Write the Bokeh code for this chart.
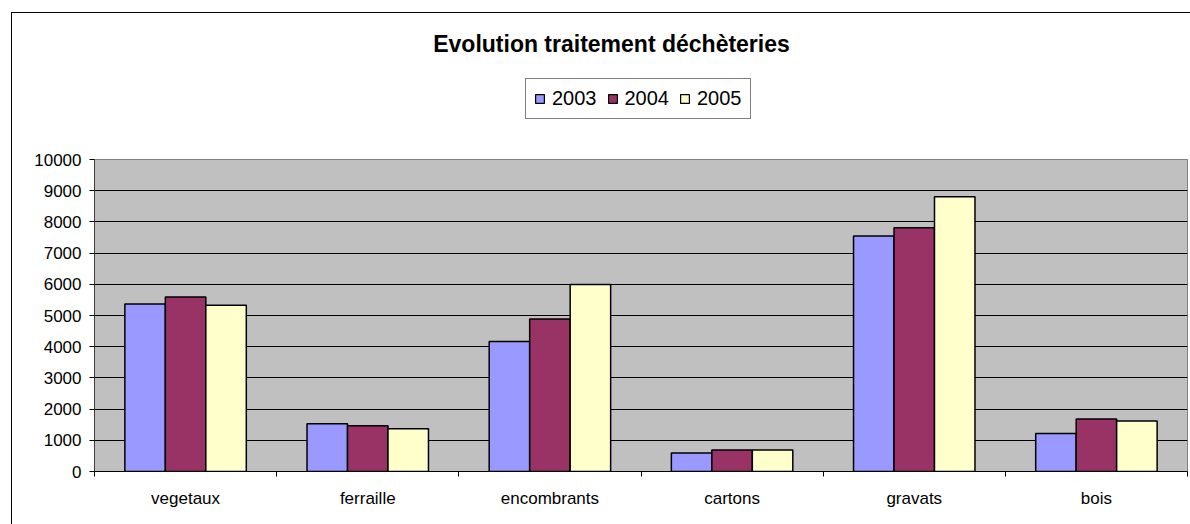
from bokeh.plotting import figure
from bokeh.layouts import column
from bokeh.models import Range1d, FixedTicker, Label
from bokeh.embed import file_html
from bokeh.resources import INLINE

# ---- data ----
categories = ["vegetaux", "ferraille", "encombrants", "cartons", "gravats", "bois"]
years = ["2003", "2004", "2005"]
v2003 = [5370, 1530, 4170, 590, 7550, 1220]
v2004 = [5590, 1470, 4890, 690, 7810, 1680]
v2005 = [5330, 1370, 5990, 690, 8810, 1620]
colors = ["#9999FF", "#993366", "#FFFFCC"]
y_ticks = [0, 1000, 2000, 3000, 4000, 5000, 6000, 7000, 8000, 9000, 10000]
title_text = "Evolution traitement déchèteries"

FONT = "Liberation Sans"
n = len(categories)
series = [v2003, v2004, v2005]

# geometry (canvas pixels)
W, H = 1190, 524
TOP_H = 150
FL, FR, FT, FB = 94, 1187, 159, 471
bw = 1.0 / (3 + 1.5)

# ---------- header figure: title + legend ----------
bg_top = ("linear-gradient(#000,#000) 11px 12px / 1px 100% no-repeat, "
          "linear-gradient(#000,#000) 11px 12px / 100% 1px no-repeat, #ffffff")
top = figure(width=W, height=TOP_H,
             x_range=Range1d(FL, FR), y_range=Range1d(TOP_H, 0),
             x_axis_type=None, y_axis_type=None,
             output_backend="svg", toolbar_location=None,
             min_border=0, min_border_left=0, min_border_right=0,
             min_border_top=0, min_border_bottom=0,
             styles={"background": bg_top})
top.grid.visible = False
top.outline_line_color = None
top.background_fill_alpha = 0
top.border_fill_alpha = 0

top.add_layout(Label(x=611, y=43.5, text=title_text,
                     text_align="center", text_baseline="alphabetic",
                     text_font=FONT, text_font_style="bold",
                     text_font_size="23px", text_color="black"))

# hidden copies of the series, used only as legend entries
for k, (yr, vals, col) in enumerate(zip(years, series, colors)):
    xs = [i + 0.5 + (k - 1) * bw for i in range(n)]
    top.vbar(x=xs, top=vals, width=bw, fill_color=col, line_color="black",
             line_width=1.2, legend_label=yr, visible=False)

leg = top.legend[0]
leg.location = (525 - FL, TOP_H - 119)
leg.orientation = "horizontal"
leg.border_line_color = "black"
leg.border_line_width = 1
leg.background_fill_color = "white"
leg.background_fill_alpha = 1
leg.inactive_fill_alpha = 0
leg.padding = 8
leg.spacing = 10
leg.margin = 0
leg.label_standoff = 7
leg.glyph_width = 11
leg.glyph_height = 11
leg.label_text_font = FONT
leg.label_text_font_size = "20px"
leg.label_text_color = "black"

# ---------- chart figure ----------
bg_bot = "linear-gradient(#000,#000) 11px 0px / 1px 100% no-repeat, #ffffff"
p = figure(width=W, height=H - TOP_H,
           x_range=Range1d(0, n), y_range=Range1d(0, 10000),
           output_backend="svg", toolbar_location=None,
           min_border_left=FL, min_border_right=W - FR,
           min_border_top=FT - TOP_H, min_border_bottom=H - FB,
           styles={"background": bg_bot})

p.background_fill_color = "#C0C0C0"
p.border_fill_alpha = 0
p.outline_line_color = "#808080"
p.outline_line_width = 1

for k, (yr, vals, col) in enumerate(zip(years, series, colors)):
    xs = [i + 0.5 + (k - 1) * bw for i in range(n)]
    p.vbar(x=xs, top=vals, width=bw, bottom=0, fill_color=col,
           line_color="black", line_width=1.5)

# y axis
p.yaxis.ticker = FixedTicker(ticks=y_ticks, minor_ticks=[])
p.yaxis.major_tick_out = 5
p.yaxis.major_tick_in = 0
p.yaxis.minor_tick_line_color = None
p.yaxis.axis_line_color = "#404040"
p.yaxis.major_tick_line_color = "black"
p.yaxis.major_label_text_font = FONT
p.yaxis.major_label_text_font_size = "17px"
p.yaxis.major_label_text_color = "black"
p.yaxis.major_label_standoff = 8

# x axis
centers = [i + 0.5 for i in range(n)]
bounds = [float(i) for i in range(n + 1)]
p.xaxis.ticker = FixedTicker(ticks=centers, minor_ticks=bounds)
p.xaxis.major_label_overrides = {c: name for c, name in zip(centers, categories)}
p.xaxis.major_tick_line_color = None
p.xaxis.major_tick_out = 5
p.xaxis.major_tick_in = 0
p.xaxis.minor_tick_out = 5
p.xaxis.minor_tick_in = 0
p.xaxis.minor_tick_line_color = "black"
p.xaxis.axis_line_color = "black"
p.xaxis.major_label_text_font = FONT
p.xaxis.major_label_text_font_size = "17px"
p.xaxis.major_label_text_color = "black"
p.xaxis.major_label_standoff = 12

# grid
p.ygrid.ticker = FixedTicker(ticks=y_ticks)
p.ygrid.grid_line_color = "black"
p.ygrid.grid_line_width = 1
p.xgrid.visible = False

layout = column(top, p, spacing=0)
open("out.html", "w").write(file_html(layout, INLINE))
